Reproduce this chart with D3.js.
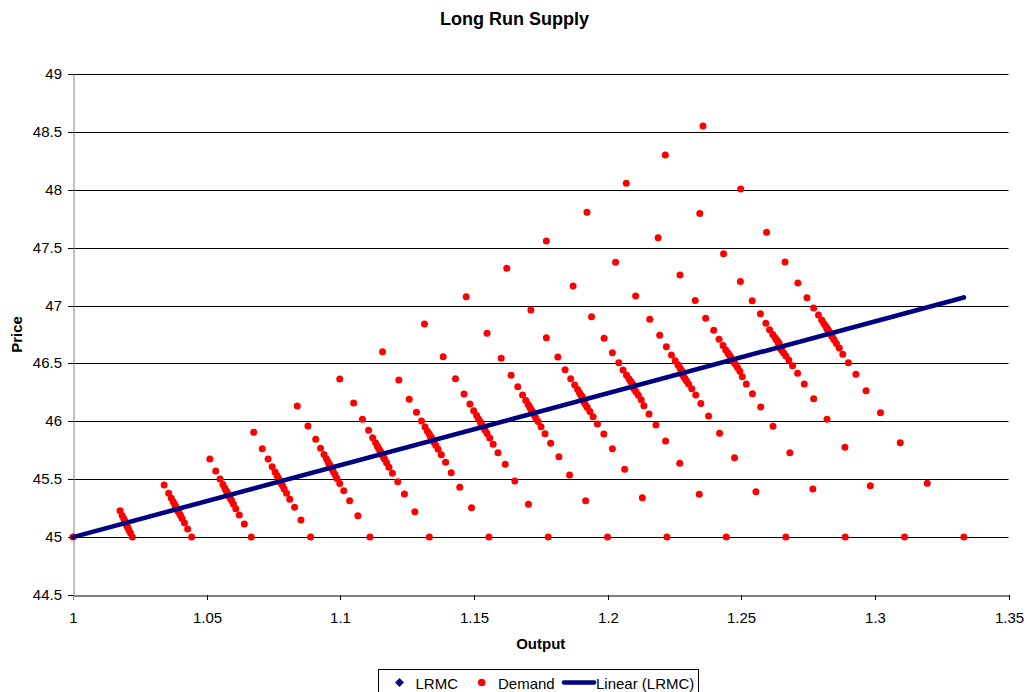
<!DOCTYPE html>
<html>
<head>
<meta charset="utf-8">
<script src="https://cdn.jsdelivr.net/npm/d3@7"></script>
<style>
  html, body { margin: 0; padding: 0; background: #fff; }
  svg { display: block; font-family: "Liberation Sans", Arial, sans-serif; }
</style>
</head>
<body>
<svg id="chart" width="1027" height="692"></svg>
<script>
// ---- Axis ticks ----
const xTicks = [1, 1.05, 1.1, 1.15, 1.2, 1.25, 1.3, 1.35];
const xTickLabels = ["1", "1.05", "1.1", "1.15", "1.2", "1.25", "1.3", "1.35"];
const yTicks = [44.5, 45, 45.5, 46, 46.5, 47, 47.5, 48, 48.5, 49];
const yTickLabels = ["44.5", "45", "45.5", "46", "46.5", "47", "47.5", "48", "48.5", "49"];

// ---- LRMC series: [output, price] ----
const lrmcOutput = [1.0000, 1.0222, 1.0444, 1.0667, 1.0889, 1.1111, 1.1333, 1.1556,
                    1.1778, 1.2000, 1.2222, 1.2444, 1.2667, 1.2889, 1.3111, 1.3333];
const lrmcPrice  = [45.000, 45.138, 45.276, 45.414, 45.552, 45.690, 45.828, 45.966,
                    46.104, 46.242, 46.380, 46.518, 46.656, 46.794, 46.932, 47.070];

// ---- Demand series, one run per market size: [output, price] ----
const demand00 = [[1.0000,45.000]];
const demand01 = [[1.0176,45.228],[1.0184,45.186],[1.0190,45.158],[1.0194,45.139],[1.0196,45.127],[1.0198,45.118],
                  [1.0222,45.000],[1.0215,45.035],[1.0209,45.062],[1.0205,45.082],[1.0202,45.097],[1.0200,45.108]];
const demand02 = [[1.0341,45.450],[1.0358,45.378],[1.0368,45.335],[1.0375,45.305],[1.0380,45.284],[1.0383,45.269],[1.0385,45.259],[1.0387,45.252],
                  [1.0444,45.000],[1.0429,45.070],[1.0417,45.122],[1.0408,45.160],[1.0402,45.188],[1.0397,45.208],[1.0393,45.223],[1.0391,45.234]];
const demand03 = [[1.0512,45.675],[1.0534,45.571],[1.0550,45.502],[1.0561,45.455],[1.0568,45.423],[1.0573,45.401],[1.0577,45.386],[1.0579,45.376],
                  [1.0667,45.000],[1.0641,45.113],[1.0622,45.191],[1.0609,45.246],[1.0600,45.285],[1.0594,45.313],[1.0589,45.333],[1.0586,45.347],[1.0584,45.357]];
const demand04 = [[1.0676,45.905],[1.0708,45.764],[1.0730,45.675],[1.0745,45.608],[1.0756,45.563],[1.0763,45.532],[1.0768,45.510],[1.0772,45.495],[1.0774,45.485],[1.0776,45.478],
                  [1.0889,45.000],[1.0853,45.148],[1.0829,45.258],[1.0811,45.327],[1.0799,45.378],[1.0790,45.416],[1.0784,45.444],[1.0779,45.464],[1.0775,45.479]];
const demand05 = [[1.0839,46.132],[1.0879,45.960],[1.0908,45.845],[1.0926,45.767],[1.0939,45.713],[1.0948,45.676],[1.0954,45.650],[1.0958,45.632],[1.0961,45.620],[1.0963,45.612],
                  [1.1111,45.000],[1.1066,45.185],[1.1035,45.315],[1.1013,45.401],[1.0998,45.463],[1.0987,45.508],[1.0980,45.541],[1.0974,45.565],[1.0970,45.583],[1.0967,45.596]];
const demand06 = [[1.0998,46.366],[1.1050,46.158],[1.1083,46.018],[1.1106,45.923],[1.1121,45.859],[1.1132,45.815],[1.1139,45.784],[1.1144,45.763],[1.1148,45.748],[1.1150,45.738],[1.1152,45.731],
                  [1.1333,45.000],[1.1279,45.220],[1.1240,45.372],[1.1215,45.479],[1.1195,45.551],[1.1182,45.604],[1.1173,45.643],[1.1166,45.672],[1.1161,45.693],[1.1157,45.709]];
const demand07 = [[1.1158,46.601],[1.1219,46.357],[1.1258,46.190],[1.1285,46.078],[1.1304,46.003],[1.1317,45.951],[1.1326,45.915],[1.1333,45.890],[1.1337,45.872],[1.1340,45.860],[1.1342,45.851],
                  [1.1556,45.000],[1.1491,45.254],[1.1447,45.430],[1.1415,45.556],[1.1394,45.646],[1.1378,45.711],[1.1366,45.759],[1.1357,45.794],[1.1350,45.819],[1.1346,45.837]];
const demand08 = [[1.1315,46.841],[1.1385,46.558],[1.1431,46.368],[1.1463,46.236],[1.1485,46.150],[1.1499,46.092],[1.1510,46.050],[1.1517,46.020],[1.1523,45.999],[1.1526,45.984],[1.1529,45.974],
                  [1.1778,45.000],[1.1704,45.283],[1.1653,45.485],[1.1617,45.629],[1.1590,45.729],[1.1572,45.802],[1.1559,45.855],[1.1549,45.894],[1.1542,45.923],[1.1537,45.944],[1.1533,45.959]];
const demand09 = [[1.1471,47.077],[1.1549,46.760],[1.1602,46.545],[1.1639,46.398],[1.1664,46.299],[1.1682,46.228],[1.1694,46.179],[1.1703,46.145],[1.1709,46.121],[1.1713,46.104],[1.1716,46.092],[1.1718,46.084],
                  [1.2000,45.000],[1.1918,45.315],[1.1858,45.537],[1.1818,45.695],[1.1787,45.810],[1.1766,45.893],[1.1751,45.954],[1.1740,45.999],[1.1731,46.032],[1.1725,46.056],[1.1721,46.074]];
const demand10 = [[1.1623,47.322],[1.1713,46.962],[1.1771,46.722],[1.1814,46.556],[1.1841,46.446],[1.1862,46.368],[1.1877,46.313],[1.1888,46.274],[1.1895,46.247],[1.1900,46.228],[1.1904,46.215],[1.1906,46.206],
                  [1.2222,45.000],[1.2130,45.340],[1.2064,45.586],[1.2018,45.764],[1.1986,45.891],[1.1962,45.977],[1.1946,46.040],[1.1934,46.086],[1.1924,46.120],[1.1917,46.145],[1.1913,46.163],[1.1910,46.176],[1.1908,46.186]];
const demand11 = [[1.1771,47.558],[1.1871,47.169],[1.1940,46.904],[1.1987,46.717],[1.2018,46.593],[1.2042,46.506],[1.2058,46.443],[1.2071,46.399],[1.2080,46.368],[1.2086,46.346],[1.2091,46.331],[1.2094,46.320],[1.2096,46.312],
                  [1.2444,45.000],[1.2343,45.370],[1.2270,45.638],[1.2217,45.830],[1.2181,45.968],[1.2155,46.063],[1.2136,46.135],[1.2126,46.187],[1.2115,46.225],[1.2107,46.253],[1.2101,46.273],[1.2097,46.288],[1.2094,46.299]];
const demand12 = [[1.1923,47.805],[1.2030,47.374],[1.2105,47.083],[1.2158,46.881],[1.2195,46.743],[1.2220,46.645],[1.2239,46.573],[1.2253,46.523],[1.2263,46.488],[1.2270,46.464],[1.2274,46.447],[1.2278,46.435],[1.2280,46.427],
                  [1.2667,45.000],[1.2555,45.392],[1.2475,45.686],[1.2419,45.897],[1.2378,46.046],[1.2349,46.154],[1.2330,46.228],[1.2315,46.282],[1.2303,46.322],[1.2295,46.351],[1.2289,46.372],[1.2285,46.388],[1.2281,46.400],[1.2279,46.409]];
const demand13 = [[1.2070,48.056],[1.2189,47.586],[1.2271,47.264],[1.2328,47.044],[1.2367,46.891],[1.2397,46.787],[1.2417,46.709],[1.2432,46.655],[1.2442,46.617],[1.2450,46.591],[1.2455,46.573],[1.2459,46.560],[1.2461,46.551],
                  [1.2889,45.000],[1.2768,45.416],[1.2682,45.729],[1.2619,45.957],[1.2573,46.124],[1.2542,46.239],[1.2519,46.323],[1.2504,46.386],[1.2495,46.432],[1.2486,46.466],[1.2479,46.491],[1.2473,46.509],[1.2470,46.522],[1.2467,46.532]];
const demand14 = [[1.2216,48.300],[1.2345,47.795],[1.2434,47.448],[1.2497,47.208],[1.2541,47.041],[1.2572,46.929],[1.2592,46.847],[1.2606,46.790],[1.2618,46.750],[1.2627,46.722],[1.2632,46.703],[1.2637,46.689],[1.2639,46.680],[1.2641,46.675],[1.2642,46.671],
                  [1.3111,45.000],[1.2983,45.444],[1.2888,45.776],[1.2821,46.018],[1.2771,46.196],[1.2736,46.323],[1.2711,46.415],[1.2692,46.481],[1.2678,46.529],[1.2667,46.564],[1.2659,46.590],[1.2653,46.609],[1.2649,46.623],[1.2646,46.633],[1.2644,46.640],[1.2642,46.646],[1.2641,46.651]];
const demand15 = [[1.2357,48.551],[1.2498,48.007],[1.2595,47.633],[1.2664,47.376],[1.2712,47.195],[1.2746,47.068],[1.2771,46.979],[1.2789,46.918],[1.2801,46.876],[1.2809,46.846],[1.2815,46.825],[1.2819,46.810],[1.2822,46.800],[1.2823,46.793],[1.2825,46.787],[1.2826,46.782],[1.2827,46.779],
                  [1.3333,45.000],[1.3196,45.465],[1.3095,45.815],[1.3021,46.075],[1.2967,46.265],[1.2929,46.406],[1.2901,46.506],[1.2880,46.579],[1.2867,46.633],[1.2856,46.673],[1.2848,46.703],[1.2842,46.725],[1.2838,46.741],[1.2834,46.753],[1.2832,46.762],[1.2830,46.769],[1.2829,46.774]];

const demandRuns = [demand00, demand01, demand02, demand03, demand04, demand05, demand06, demand07,
                    demand08, demand09, demand10, demand11, demand12, demand13, demand14, demand15];

// ---- Layout ----
const svg = d3.select("#chart");
const plot = { left: 73, right: 1008.5, top: 74, bottom: 595 };
const NAVY = "#000080", RED = "#FF0000";

const x = d3.scaleLinear().domain([1, 1.35]).range([plot.left, plot.right]);
const y = d3.scaleLinear().domain([44.5, 49]).range([plot.bottom, plot.top]);
const crisp = v => Math.round(v) + 0.5;

// Horizontal gridlines
svg.append("g").attr("class", "grid")
  .selectAll("line").data(yTicks.slice(1)).join("line")
  .attr("x1", plot.left).attr("x2", plot.right)
  .attr("y1", d => crisp(y(d))).attr("y2", d => crisp(y(d)))
  .attr("stroke", "#000").attr("stroke-width", 1);

// Y axis
const yAxis = svg.append("g")
  .attr("transform", `translate(${crisp(plot.left) - 0.5},0)`)
  .call(d3.axisLeft(y).tickValues(yTicks).tickSize(5).tickSizeOuter(0).tickPadding(6)
        .tickFormat((d, i) => yTickLabels[i]));
yAxis.select(".domain").attr("stroke", "#808080").attr("transform", "translate(0.5,0)");
yAxis.selectAll(".tick line").attr("stroke", "#000");
yAxis.selectAll(".tick").attr("transform", d => `translate(0,${crisp(y(d))})`);
yAxis.selectAll(".tick text").attr("font-size", 15).attr("fill", "#000")
  .attr("font-family", "'Liberation Sans', Arial, sans-serif");

// X axis
const xAxis = svg.append("g")
  .attr("transform", `translate(0,${crisp(plot.bottom) - 0.5})`)
  .call(d3.axisBottom(x).tickValues(xTicks).tickSize(5).tickSizeOuter(0).tickPadding(12)
        .tickFormat((d, i) => xTickLabels[i]));
xAxis.select(".domain").attr("stroke", "#000").attr("transform", "translate(0,0.5)");
xAxis.selectAll(".tick line").attr("stroke", "#000");
xAxis.selectAll(".tick").attr("transform", d => `translate(${crisp(x(d))},0)`);
xAxis.selectAll(".tick text").attr("font-size", 15).attr("fill", "#000")
  .attr("font-family", "'Liberation Sans', Arial, sans-serif");
// first tick sits on the gray value axis
xAxis.select(".tick line").attr("stroke", "#808080");

// LRMC markers (small diamonds, under the trend line)
const lrmc = lrmcOutput.map((o, i) => [o, lrmcPrice[i]]);
svg.append("g").selectAll("path").data(lrmc).join("path")
  .attr("d", d3.symbol(d3.symbolDiamond2, 14))
  .attr("transform", d => `translate(${x(d[0])},${y(d[1])})`)
  .attr("fill", NAVY);

// Demand points
const demandPts = demandRuns.flat();
svg.append("g").attr("class", "demand")
  .selectAll("circle").data(demandPts).join("circle")
  .attr("cx", d => x(d[0])).attr("cy", d => y(d[1]))
  .attr("r", 3.5).attr("fill", RED);

// Linear trend line of LRMC (least squares)
const n = lrmc.length;
const mx = d3.mean(lrmc, d => d[0]), my = d3.mean(lrmc, d => d[1]);
const slope = d3.sum(lrmc, d => (d[0] - mx) * (d[1] - my)) / d3.sum(lrmc, d => (d[0] - mx) ** 2);
const icpt = my - slope * mx;
const xr = d3.extent(lrmcOutput);
const trend = xr.map(v => [v, icpt + slope * v]);
svg.append("path")
  .datum(trend)
  .attr("d", d3.line().x(d => x(d[0])).y(d => y(d[1])))
  .attr("fill", "none").attr("stroke", NAVY).attr("stroke-width", 4.6)
  .attr("stroke-linecap", "round");

// Titles
svg.append("text").attr("x", 514.5).attr("y", 25).attr("text-anchor", "middle")
  .attr("font-size", 18).attr("font-weight", "bold").text("Long Run Supply");
svg.append("text").attr("x", (plot.left + plot.right) / 2).attr("y", 648.5).attr("text-anchor", "middle")
  .attr("font-size", 15).attr("font-weight", "bold").text("Output");
svg.append("text").attr("transform", `translate(21.5,${(plot.top + plot.bottom) / 2}) rotate(-90)`)
  .attr("text-anchor", "middle")
  .attr("font-size", 15).attr("font-weight", "bold").text("Price");

// Legend
const lg = svg.append("g").attr("class", "legend");
lg.append("rect").attr("x", 378.5).attr("y", 669.5).attr("width", 320).attr("height", 30)
  .attr("fill", "#fff").attr("stroke", "#000").attr("stroke-width", 1);
const ly = 682.5;
lg.append("path").attr("d", d3.symbol(d3.symbolDiamond2, 50))
  .attr("transform", `translate(399.5,${ly})`).attr("fill", NAVY);
lg.append("text").attr("x", 415.5).attr("y", 688.5).attr("font-size", 15).text("LRMC");
lg.append("circle").attr("cx", 481.7).attr("cy", ly).attr("r", 3.8).attr("fill", RED);
lg.append("text").attr("x", 498).attr("y", 688.5).attr("font-size", 15).text("Demand");
lg.append("line").attr("x1", 564).attr("x2", 594).attr("y1", ly).attr("y2", ly)
  .attr("stroke", NAVY).attr("stroke-width", 4.6).attr("stroke-linecap", "round");
lg.append("text").attr("x", 596).attr("y", 688.5).attr("font-size", 15).text("Linear (LRMC)");
</script>
</body>
</html>
